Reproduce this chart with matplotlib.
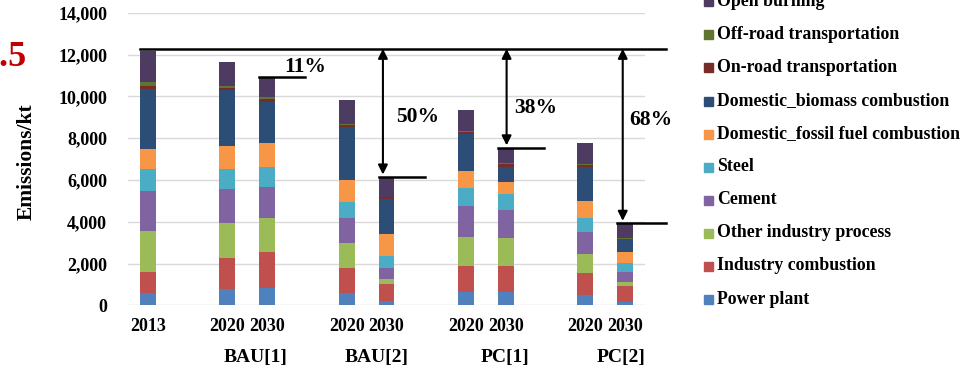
import matplotlib
matplotlib.use("Agg")
import matplotlib.pyplot as plt
from matplotlib.patches import Rectangle
from matplotlib.transforms import blended_transform_factory

plt.rcParams["font.family"] = ["Liberation Serif", "DejaVu Serif"]
plt.rcParams["font.weight"] = "bold"

# Bars: 2013 base year, then 2020/2030 for each scenario
bar_labels = ["2013", "2020", "2030", "2020", "2030", "2020", "2030", "2020", "2030"]
scenarios = ["BAU[1]", "BAU[2]", "PC[1]", "PC[2]"]

# PM2.5 emissions by sector (kt), bottom to top of each stack
power_plant = [590, 780, 830, 590, 190, 650, 650, 490, 170]
industry_combustion = [1020, 1470, 1710, 1210, 830, 1230, 1230, 1050, 750]
other_industry = [1960, 1690, 1630, 1180, 225, 1370, 1325, 920, 180]
cement = [1900, 1610, 1510, 1200, 555, 1510, 1370, 1050, 490]
steel = [1050, 970, 930, 780, 545, 830, 750, 690, 415]
domestic_fossil = [960, 1100, 1150, 1050, 1050, 830, 590, 780, 555]
domestic_biomass = [2890, 2665, 1975, 2520, 1700, 1755, 720, 1640, 595]
on_road = [115, 95, 130, 110, 80, 95, 115, 80, 30]
off_road = [220, 125, 95, 50, 20, 60, 60, 80, 50]
open_burning = [1470, 1150, 910, 1135, 910, 1020, 690, 1005, 655]

sectors = [
    ("Power plant", power_plant, "#4F81BD"),
    ("Industry combustion", industry_combustion, "#C0504D"),
    ("Other industry process", other_industry, "#9BBB59"),
    ("Cement", cement, "#8064A2"),
    ("Steel", steel, "#4BACC6"),
    ("Domestic_fossil fuel combustion", domestic_fossil, "#F79646"),
    ("Domestic_biomass combustion", domestic_biomass, "#2C4D75"),
    ("On-road transportation", on_road, "#772C2A"),
    ("Off-road transportation", off_road, "#5F7530"),
    ("Open burning", open_burning, "#4D3B62"),
]

# slot positions leave a gap between scenario groups
xpos = [0, 2, 3, 5, 6, 8, 9, 11, 12]

W, H = 963, 371
fig = plt.figure(figsize=(W / 100, H / 100), dpi=100)
ax = fig.add_axes([128 / W, 1 - 305.3 / H, (645 - 128) / W, (305.3 - 12.7) / H])

bottoms = [0.0] * len(xpos)
for name, vals, color in sectors:
    ax.bar(xpos, vals, width=0.4, bottom=bottoms, color=color, label=name,
           linewidth=0, zorder=3)
    bottoms = [b + v for b, v in zip(bottoms, vals)]
totals = bottoms

ax.set_xlim(-0.5, 12.5)
ax.set_ylim(0, 14000)
ax.set_yticks(range(0, 14001, 2000))
ax.set_yticklabels([f"{v:,}" for v in range(0, 14001, 2000)], fontsize=13,
                   fontweight="bold")
ax.set_xticks(xpos)
ax.set_xticklabels(bar_labels, fontsize=13, fontweight="bold")
ax.tick_params(axis="both", length=0)
ax.tick_params(axis="y", pad=15)
ax.tick_params(axis="x", pad=9)
ax.grid(axis="y", color="#D9D9D9", linewidth=1, zorder=0)
for s in ax.spines.values():
    s.set_visible(False)

ax.set_ylabel("Emissions/kt", fontsize=15.5, fontweight="bold")
ax.yaxis.set_label_coords(-0.176, 0.49)

# scenario names under each 2020/2030 pair
trans = blended_transform_factory(ax.transData, ax.transAxes)
for name, xc in zip(scenarios, [2.7, 5.76, 8.99, 11.9]):
    ax.text(xc, -0.177, name, transform=trans, ha="center", va="center",
            fontsize=14, fontweight="bold")

fig.text(27 / W, 1 - 57 / H, "PM2.5", color="#C00000", fontsize=26,
         fontweight="bold", ha="right", va="center")

# reduction relative to 2013
base = totals[0]
pad = 100
ax.plot([-0.2, 13.03], [base + pad, base + pad], color="black", lw=1.8,
        clip_on=False, zorder=5)

targets = [2, 4, 6, 8]          # index of each scenario's 2030 bar
seg_right = [3.95, 6.97, 9.95, 13.03]
arrow_x = [None, 5.91, 9.02, 11.94]
text_pos = [(3.42, 11400), (6.25, 9020), (9.2, 9420), (12.1, 8850)]
for ti, xr, axx, (tx, ty) in zip(targets, seg_right, arrow_x, text_pos):
    t = totals[ti]
    x0 = xpos[ti] - 0.2
    ax.plot([x0, xr], [t + 50, t + 50], color="black", lw=1.8, clip_on=False,
            zorder=5)
    if axx is not None:
        ax.annotate("", xy=(axx, t + 150), xytext=(axx, base + pad),
                    arrowprops=dict(arrowstyle="<|-|>", color="black", lw=1.5,
                                    mutation_scale=14, shrinkA=0, shrinkB=0),
                    zorder=6, annotation_clip=False)
    pct = round(100 * (1 - t / base))
    ax.text(tx, ty, f"{pct}%", fontsize=15.5, fontweight="bold", ha="left",
            va="center")

# legend: top entry first, drawn as squares + labels
for i, (name, vals, color) in enumerate(reversed(sectors)):
    yc = 1.2 + 33.1 * i
    fig.patches.append(Rectangle((704 / W, 1 - (yc + 5) / H), 9 / W, 9 / H,
                                 transform=fig.transFigure, color=color))
    fig.text(717 / W, 1 - yc / H, name, fontsize=12.8, fontweight="bold",
             ha="left", va="center")

fig.savefig("out.png", dpi=100)
